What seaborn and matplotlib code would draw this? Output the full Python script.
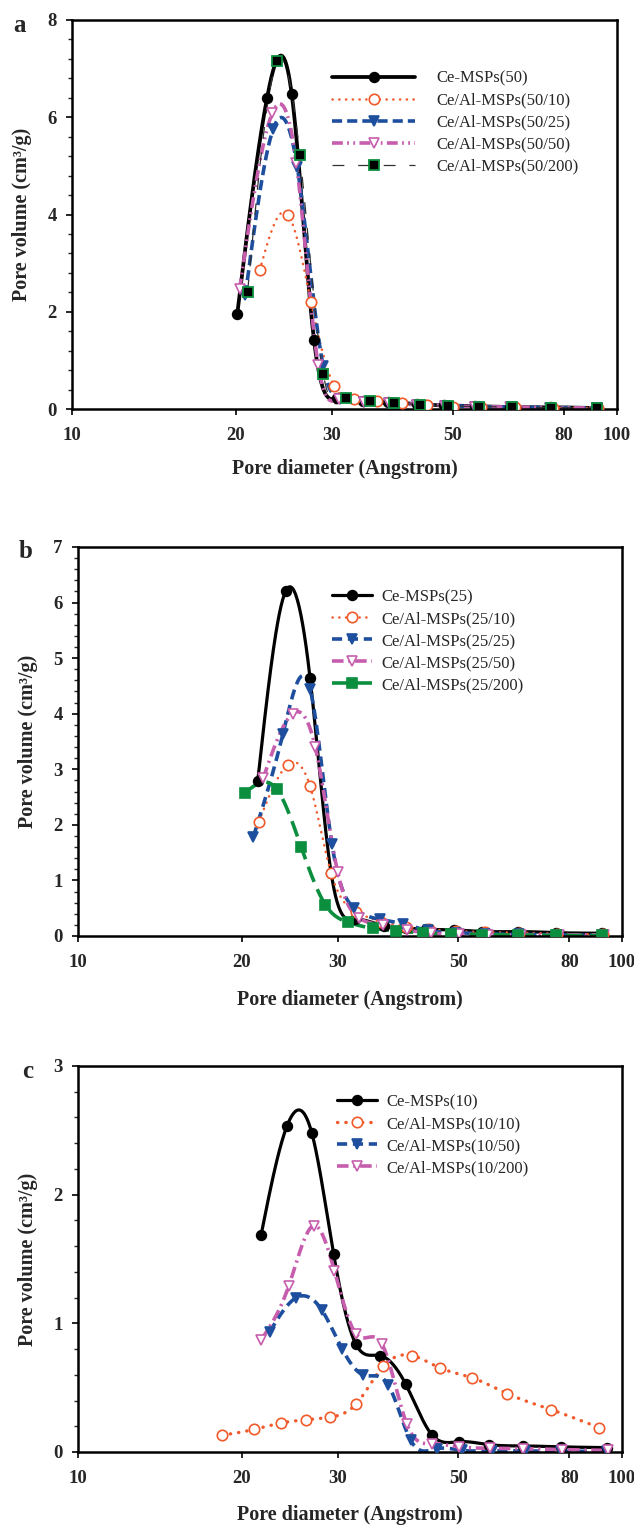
import numpy as np
import pandas as pd
import matplotlib
matplotlib.use("Agg")
import matplotlib.pyplot as plt
from matplotlib.lines import Line2D
from matplotlib.ticker import FixedLocator, MultipleLocator, NullLocator
import seaborn as sns

# --- dane (średnica porów [A], objętość porów [cm3/g]) ---
# panel a
A_CE50_X = [20.1, 22.8, 25.3, 27.8, 30.7, 34.2, 38.0, 42.9, 48.2, 54.8, 63.6, 75.3, 91.8]
A_CE50_Y = [1.95, 6.40, 6.48, 1.42, 0.22, 0.16, 0.14, 0.10, 0.075, 0.06, 0.04, 0.035, 0.02]
A_AL10_X = [22.1, 24.9, 27.45, 30.25, 32.9, 36.3, 40.3, 44.8, 50.1, 56.4, 65.0, 76.4, 92.4]
A_AL10_Y = [2.85, 4.00, 2.20, 0.48, 0.21, 0.16, 0.13, 0.08, 0.05, 0.05, 0.035, 0.03, 0.02]
A_AL25_X = [20.8, 23.4, 25.9, 28.9, 31.0, 34.4, 38.2, 43.0, 48.4, 55.0, 63.8, 75.5, 92.0]
A_AL25_Y = [2.34, 5.76, 4.98, 0.88, 0.20, 0.15, 0.12, 0.09, 0.07, 0.05, 0.04, 0.03, 0.02]
A_AL50_X = [20.3, 23.3, 25.8, 28.3, 30.9, 34.3, 38.1, 42.9, 48.3, 54.9, 63.7, 75.4, 91.9]
A_AL50_Y = [2.46, 6.08, 5.06, 0.90, 0.20, 0.15, 0.12, 0.09, 0.07, 0.05, 0.04, 0.03, 0.02]
A_AL200_X = [21.0, 23.8, 26.2, 28.9, 31.8, 35.2, 39.0, 43.5, 49.0, 55.8, 64.3, 75.7, 91.8]
A_AL200_Y = [2.41, 7.15, 5.22, 0.73, 0.23, 0.17, 0.13, 0.08, 0.06, 0.05, 0.035, 0.03, 0.02]

# panel b
B_CE25_X = [21.4, 24.1, 26.7, 29.2, 32.3, 36.5, 40.0, 43.7, 49.2, 55.4, 64.5, 75.7, 92.0]
B_CE25_Y = [2.79, 6.21, 4.65, 1.13, 0.30, 0.18, 0.14, 0.12, 0.11, 0.08, 0.08, 0.06, 0.05]
B_AL10_X = [21.5, 24.3, 26.7, 29.2, 32.4, 36.0, 40.0, 44.2, 49.6, 56.0, 64.8, 76.0, 92.3]
B_AL10_Y = [2.06, 3.08, 2.70, 1.13, 0.44, 0.26, 0.17, 0.12, 0.09, 0.07, 0.06, 0.04, 0.03]
B_AL25_X = [21.0, 23.8, 26.7, 29.3, 32.2, 35.9, 39.5, 44.0, 49.5, 56.0, 64.8, 76.0, 92.3]
B_AL25_Y = [1.78, 3.63, 4.45, 1.65, 0.50, 0.30, 0.22, 0.10, 0.06, 0.04, 0.03, 0.02, 0.01]
B_AL50_X = [21.9, 24.8, 27.3, 30.0, 32.9, 36.4, 40.2, 44.6, 50.2, 56.6, 65.2, 76.6, 92.7]
B_AL50_Y = [2.84, 4.00, 3.40, 1.16, 0.32, 0.20, 0.11, 0.05, 0.03, 0.025, 0.02, 0.02, 0.02]
B_AL200_X = [20.3, 23.2, 25.7, 28.5, 31.3, 34.8, 38.4, 43.1, 48.5, 55.4, 64.3, 75.6, 92.0]
B_AL200_Y = [2.58, 2.64, 1.61, 0.56, 0.25, 0.14, 0.095, 0.05, 0.036, 0.025, 0.02, 0.01, 0.01]

# panel c
C_CE10_X = [21.7, 24.2, 26.9, 29.5, 32.4, 35.9, 40.0, 44.7, 50.1, 57.0, 65.8, 77.3, 93.8]
C_CE10_Y = [1.685, 2.53, 2.48, 1.54, 0.84, 0.75, 0.53, 0.135, 0.08, 0.057, 0.047, 0.04, 0.034]
C_AL10_X = [18.4, 21.1, 23.6, 26.2, 29.0, 32.4, 36.4, 41.1, 46.3, 53.1, 61.5, 74.0, 90.7]
C_AL10_Y = [0.13, 0.176, 0.225, 0.25, 0.27, 0.37, 0.666, 0.75, 0.653, 0.576, 0.454, 0.33, 0.19]
C_AL50_X = [22.5, 25.2, 28.1, 30.6, 33.4, 37.2, 40.9, 45.7, 50.9, 57.8, 66.2, 77.3, 93.8]
C_AL50_Y = [0.933, 1.20, 1.10, 0.80, 0.60, 0.52, 0.09, 0.026, 0.013, 0.01, 0.008, 0.006, 0.005]
C_AL200_X = [21.7, 24.4, 27.2, 29.6, 32.4, 36.2, 40.2, 44.8, 50.1, 57.2, 65.9, 77.6, 94.1]
C_AL200_Y = [0.87, 1.29, 1.76, 1.41, 0.92, 0.84, 0.22, 0.065, 0.04, 0.03, 0.026, 0.018, 0.013]

X_TICKS = [10, 20, 30, 50, 80, 100]
X_LABEL = "Pore diameter (Angstrom)"
Y_LABEL = "Pore volume (cm³/g)"

RED = "#F15A2B"
BLUE = "#1D4F9E"
PINK = "#C65DAD"
GREEN = "#0B8F3E"

sns.set_theme(style="ticks")
plt.rcParams["font.family"] = ["Liberation Serif", "DejaVu Serif"]


def smooth(xv, yv, n=400):
    # naturalny spline w skali log(x) - jak w SigmaPlot
    t = np.log10(np.asarray(xv, float))
    y = np.asarray(yv, float)
    k = len(t)
    h = np.diff(t)
    A = np.zeros((k, k))
    r = np.zeros(k)
    A[0, 0] = A[-1, -1] = 1
    for i in range(1, k - 1):
        A[i, i - 1] = h[i - 1]
        A[i, i] = 2 * (h[i - 1] + h[i])
        A[i, i + 1] = h[i]
        r[i] = 6 * ((y[i + 1] - y[i]) / h[i] - (y[i] - y[i - 1]) / h[i - 1])
    m = np.linalg.solve(A, r)
    tt = np.linspace(t[0], t[-1], n)
    idx = np.clip(np.searchsorted(t, tt) - 1, 0, k - 2)
    hh = h[idx]
    a = t[idx + 1] - tt
    b = tt - t[idx]
    s = (m[idx] * a ** 3 / (6 * hh) + m[idx + 1] * b ** 3 / (6 * hh)
         + (y[idx] / hh - m[idx] * hh / 6) * a
         + (y[idx + 1] / hh - m[idx + 1] * hh / 6) * b)
    return pd.DataFrame({"d": 10 ** tt, "v": s})


def draw_panel(ax, series, ymax, ymajor, yminor, leg_pos, hlen, hpad, xpad):
    handles = []
    for label, xs, ys, st in series:
        df = smooth(xs, ys)
        sns.lineplot(data=df, x="d", y="v", ax=ax, color=st["color"], lw=st["lw"],
                     linestyle=st["ls"], dash_capstyle=st.get("cap", "butt"),
                     sort=False, estimator=None, legend=False)
        ax.plot(xs, ys, linestyle="none", marker=st["marker"], ms=st["ms"],
                mfc=st["mfc"], mec=st["mec"], mew=st.get("mew", 1.2), zorder=3)
        handles.append(Line2D([], [], color=st["color"], lw=st["lw"], linestyle=st["ls"],
                              dash_capstyle=st.get("cap", "butt"), marker=st["marker"],
                              ms=st["ms"], mfc=st["mfc"], mec=st["mec"],
                              mew=st.get("mew", 1.2), label=label))

    ax.set_xscale("log")
    ax.set_xlim(10, 100)
    ax.set_ylim(0, ymax)
    ax.xaxis.set_major_locator(FixedLocator(X_TICKS))
    ax.xaxis.set_minor_locator(NullLocator())
    ax.set_xticklabels([str(v) for v in X_TICKS])
    ax.yaxis.set_major_locator(MultipleLocator(ymajor))
    ax.yaxis.set_minor_locator(MultipleLocator(yminor))
    ax.set_yticklabels([str(int(v)) for v in ax.get_yticks()])

    for sp in ax.spines.values():
        sp.set_linewidth(1.8)
        sp.set_color("black")
    ax.tick_params(axis="both", which="major", direction="out", length=4, width=1.2,
                   labelsize=13.5, color="black")
    ax.tick_params(axis="y", which="minor", direction="out", length=3, width=1.0)
    ax.tick_params(axis="x", which="major", pad=9)
    ax.tick_params(axis="y", which="major", pad=7)
    for lab in ax.get_xticklabels() + ax.get_yticklabels():
        lab.set_fontweight("bold")

    ax.set_xlabel(X_LABEL, fontsize=14.5, fontweight="bold", labelpad=xpad)
    ax.set_ylabel(Y_LABEL, fontsize=14.5, fontweight="bold")
    ax.yaxis.set_label_coords(-0.074, 0.5)
    ax.grid(False)

    ax.legend(handles=handles, loc="upper left", bbox_to_anchor=leg_pos, frameon=False,
              borderpad=0, borderaxespad=0, handlelength=hlen, handletextpad=hpad,
              labelspacing=0.36, fontsize=12, numpoints=1)
    return ax


W, H = 634, 1529
fig = plt.figure(figsize=(W / 100, H / 100), dpi=100)


def axes_px(left, top, right, bottom):
    return fig.add_axes([left / W, 1 - bottom / H, (right - left) / W, (bottom - top) / H])


# --- panel a ---
ax_a = axes_px(72, 20, 617, 409)
series_a = [
    ("Ce-MSPs(50)", A_CE50_X, A_CE50_Y,
     dict(color="black", lw=2.7, ls="-", marker="o", ms=7, mfc="black", mec="black")),
    ("Ce/Al-MSPs(50/10)", A_AL10_X, A_AL10_Y,
     dict(color=RED, lw=1.8, ls=(0, (0.1, 2.6)), cap="round", marker="o", ms=7.5, mfc="white", mec=RED)),
    ("Ce/Al-MSPs(50/25)", A_AL25_X, A_AL25_Y,
     dict(color=BLUE, lw=2.6, ls=(0, (2.8, 1.4)), marker="v", ms=7.5, mfc=BLUE, mec=BLUE)),
    ("Ce/Al-MSPs(50/50)", A_AL50_X, A_AL50_Y,
     dict(color=PINK, lw=2.6, ls=(0, (3.0, 1.2, 0.5, 1.2, 0.5, 1.2)), marker="v", ms=7.5,
          mfc="white", mec=PINK)),
    ("Ce/Al-MSPs(50/200)", A_AL200_X, A_AL200_Y,
     dict(color="#333333", lw=0.9, ls=(0, (9.5, 11)), marker="s", ms=7, mfc="black", mec=GREEN, mew=1.3)),
]
draw_panel(ax_a, series_a, 8, 2, 0.4, (0.477, 0.87), 5.0, 1.25, 11)

# --- panel b ---
ax_b = axes_px(78, 547, 622, 936)
series_b = [
    ("Ce-MSPs(25)", B_CE25_X, B_CE25_Y,
     dict(color="black", lw=2.3, ls="-", marker="o", ms=7, mfc="black", mec="black")),
    ("Ce/Al-MSPs(25/10)", B_AL10_X, B_AL10_Y,
     dict(color=RED, lw=1.8, ls=(0, (0.1, 2.6)), cap="round", marker="o", ms=7.5, mfc="white", mec=RED)),
    ("Ce/Al-MSPs(25/25)", B_AL25_X, B_AL25_Y,
     dict(color=BLUE, lw=2.6, ls=(0, (2.8, 1.6)), marker="v", ms=7.5, mfc=BLUE, mec=BLUE)),
    ("Ce/Al-MSPs(25/50)", B_AL50_X, B_AL50_Y,
     dict(color=PINK, lw=2.6, ls=(0, (3.2, 1.3, 0.6, 1.3)), marker="v", ms=7.5, mfc="white", mec=PINK)),
    ("Ce/Al-MSPs(25/200)", B_AL200_X, B_AL200_Y,
     dict(color=GREEN, lw=2.6, ls=(0, (4.5, 2.2)), marker="s", ms=7.5, mfc=GREEN, mec=GREEN)),
]
draw_panel(ax_b, series_b, 7, 1, 0.2, (0.467, 0.892), 2.4, 0.55, 14)

# --- panel c ---
ax_c = axes_px(78, 1066, 622, 1452)
series_c = [
    ("Ce-MSPs(10)", C_CE10_X, C_CE10_Y,
     dict(color="black", lw=2.3, ls="-", marker="o", ms=7, mfc="black", mec="black")),
    ("Ce/Al-MSPs(10/10)", C_AL10_X, C_AL10_Y,
     dict(color=RED, lw=2.4, ls=(0, (0.1, 2.4)), cap="round", marker="o", ms=7.5, mfc="white", mec=RED)),
    ("Ce/Al-MSPs(10/50)", C_AL50_X, C_AL50_Y,
     dict(color=BLUE, lw=2.6, ls=(0, (2.8, 1.6)), marker="v", ms=7.5, mfc=BLUE, mec=BLUE)),
    ("Ce/Al-MSPs(10/200)", C_AL200_X, C_AL200_Y,
     dict(color=PINK, lw=2.6, ls=(0, (3.2, 1.3, 0.6, 1.3)), marker="v", ms=7.5, mfc="white", mec=PINK)),
]
draw_panel(ax_c, series_c, 3, 1, 0.2, (0.476, 0.927), 2.4, 0.55, 13)

for letter, (px, py) in zip("abc", [(20, 25), (26, 552), (28, 1071)]):
    fig.text(px / W, 1 - py / H, letter, fontsize=18, fontweight="bold", ha="center", va="center")

fig.savefig("out.png", dpi=100)
